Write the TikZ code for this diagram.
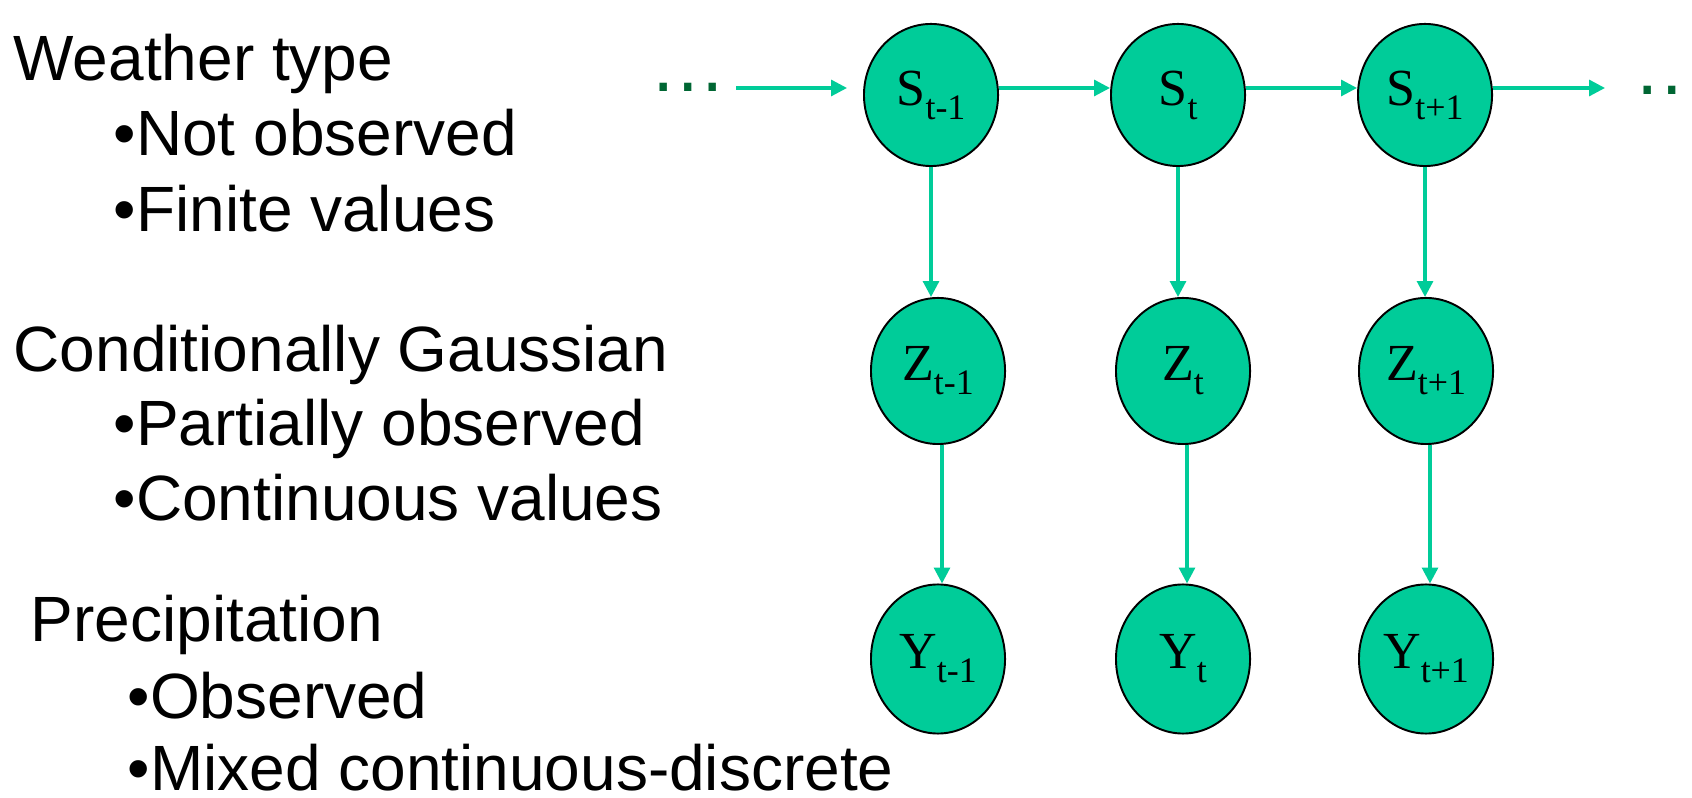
\documentclass[tikz,border=0pt]{standalone}
\usepackage{fontspec}
\setmainfont{Liberation Sans}
\newfontfamily\serif{Liberation Serif}
\usetikzlibrary{arrows.meta,shapes.geometric,calc}
\definecolor{nodegreen}{RGB}{0,204,153}
\definecolor{dotgreen}{RGB}{0,102,51}
\newcommand{\vlab}[2]{{\serif\fontsize{14.8pt}{18pt}\selectfont #1\raisebox{-4pt}{\fontsize{10.2pt}{12pt}\selectfont #2}}}
\begin{document}
\begin{tikzpicture}[x=0.01cm,y=-0.01cm,
  var/.style={ellipse, draw=black, line width=0.55pt, fill=nodegreen,
    minimum width=1.34cm, minimum height=1.46cm, inner sep=0pt},
  arr/.style={draw=nodegreen, line width=0.9pt, -{Triangle[length=4.5pt,width=4.5pt]}},
  txt/.style={anchor=base west, inner sep=0pt, font=\fontsize{18.2pt}{21pt}\selectfont},
  dotsnode/.style={anchor=base, text=dotgreen, inner sep=0pt, font=\fontsize{22pt}{26pt}\selectfont}]
\useasboundingbox (0,0) rectangle (1692,798);

% left texts
\node[txt] (t1) at (13,81) {Weather type};
\node[txt] (t2) at (113,156) {•Not observed};
\node[txt] (t3) at (113,232) {•Finite values};
\node[txt] (t4) at (13,372) {Conditionally Gaussian};
\node[txt] (t5) at (113,446) {•Partially observed};
\node[txt] (t6) at (113,521) {•Continuous values};
\node[txt] (t7) at (30,642) {Precipitation};
\node[txt] (t8) at (127,718) {•Observed};
\node[txt] (t9) at (127,790) {•Mixed continuous-discrete};

% nodes
\node[var, minimum height=1.42cm] (S1) at (931,95) {\vlab{S}{t-1}};
\node[var, minimum height=1.42cm] (S2) at (1178,95) {\vlab{S}{t}};
\node[var, minimum height=1.42cm] (S3) at (1425,95) {\vlab{S}{t+1}};
\node[var] (Z1) at (938,371) {\vlab{Z}{t-1}};
\node[var] (Z2) at (1183,371) {\vlab{Z}{t}};
\node[var] (Z3) at (1426,371) {\vlab{Z}{t+1}};
\node[var, minimum height=1.49cm] (Y1) at (938,659) {\vlab{Y}{t-1}};
\node[var, minimum height=1.49cm] (Y2) at (1183,659) {\vlab{Y}{t}};
\node[var, minimum height=1.49cm] (Y3) at (1426,659) {\vlab{Y}{t+1}};

% dots
\node[dotsnode] (dl) at (688,92) {…};
\node[dotsnode] (dr) at (1672,95) {…};
\coordinate (la) at (736,88);
\coordinate (lb) at (847,88);
\coordinate (rb) at (1605,88);

% horizontal arrows
\draw[arr] (la) -- (lb);
\draw[arr] ($(S1.east)+(0,-7)$) -- ($(S2.west)+(0,-7)$);
\draw[arr] ($(S2.east)+(0,-7)$) -- ($(S3.west)+(0,-7)$);
\draw[arr] ($(S3.east)+(0,-7)$) -- (rb);

% vertical arrows
\foreach \i in {1,2,3}{
  \draw[arr] (S\i.south) -- (S\i.south |- Z\i.north);
  \draw[arr] ($(Z\i.south)+(4,0)$) -- ($(Z\i.south |- Y\i.north)+(4,0)$);
}
\end{tikzpicture}
\end{document}
